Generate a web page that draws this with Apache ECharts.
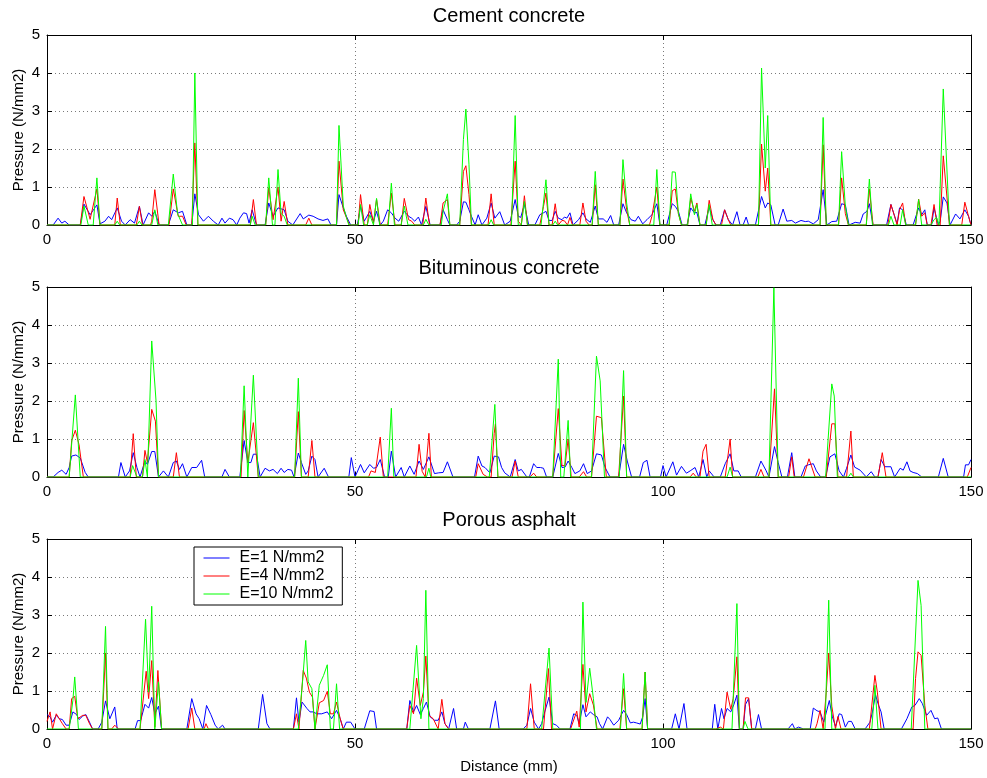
<!DOCTYPE html>
<html>
<head>
<meta charset="utf-8">
<script src="https://cdn.jsdelivr.net/npm/echarts@6/dist/echarts.min.js"></script>
<style>
html, body { margin: 0; padding: 0; background: #fff; }
#chart { width: 987px; height: 778px; }
</style>
</head>
<body>
<div id="chart"></div>
<script>
// Panel titles, legend names and tick values
const panelTitles = ['Cement concrete', 'Bituminous concrete', 'Porous asphalt'];
const seriesNames = ['E=1 N/mm2', 'E=4 N/mm2', 'E=10 N/mm2'];
const xTickRange = { min: 0, max: 150, step: 50 };
const yTickRange = { min: 0, max: 5, step: 1 };

// Pressure profiles: [distance (mm), pressure (N/mm2)]
const cementE1 = [[0,0],[1.0,0],[1.8,0.18],[2.4,0.05],[2.9,0.1],[3.6,0],[5.4,0],[6.0,0.55],[7.0,0.27],[8.1,0.53],[8.6,0.03],[9.4,0.1],[10.0,0.23],[10.5,0.14],[11.4,0.45],[12.1,0.1],[12.7,0],[13.5,0.14],[14.2,0.05],[15.0,0.49],[15.6,0],[16.5,0.32],[17.0,0.23],[17.5,0.36],[18.2,0],[19.7,0],[20.5,0.4],[21.3,0.32],[22.0,0.36],[22.7,0],[23.5,0],[24.0,0.82],[24.6,0.27],[25.4,0.1],[26.2,0.23],[27.0,0.1],[27.8,0],[28.4,0.18],[28.9,0.05],[29.6,0.18],[30.2,0.14],[30.8,0],[31.3,0.18],[31.9,0.32],[32.4,0.3],[32.8,0.05],[33.3,0.4],[34.0,0],[35.4,0],[36.0,0.58],[36.7,0.23],[37.5,0.45],[38.5,0.4],[39.1,0.1],[39.9,0],[41.1,0.3],[41.6,0.16],[42.5,0.26],[43.2,0.23],[44.0,0.16],[44.8,0.12],[45.6,0.16],[46.1,0],[47.0,0],[47.4,0.8],[48.1,0.45],[48.6,0.23],[49.3,0],[50.4,0],[50.9,0.49],[51.5,0.1],[52.4,0.36],[53.0,0.1],[53.5,0.36],[54.1,0],[54.6,0.1],[55.3,0.4],[55.9,0.32],[56.5,0.18],[57.1,0.1],[58.0,0.36],[58.7,0.23],[59.2,0.18],[59.7,0.1],[60.3,0.21],[60.8,0],[61.5,0.49],[62.2,0],[63.8,0],[64.3,0.4],[65.0,0.14],[65.4,0],[66.5,0],[67.0,0.1],[67.6,0.61],[68.0,0.6],[68.5,0.4],[68.9,0.23],[69.5,0],[70.0,0.27],[70.6,0],[71.4,0.18],[72.1,0.58],[72.7,0.18],[73.5,0.35],[74.3,0],[75.2,0.1],[76.0,0.67],[76.5,0.23],[76.9,0.2],[77.5,0.54],[78.2,0],[79.2,0],[80.0,0.27],[80.6,0.32],[81.0,0.36],[81.5,0.12],[82.0,0.12],[82.5,0.36],[83.0,0.18],[83.6,0.14],[84.0,0.21],[84.4,0.18],[84.9,0.32],[85.4,0],[86.3,0.14],[87.0,0.32],[87.5,0.16],[88.2,0.07],[89.0,0.5],[89.5,0.16],[90.3,0.16],[90.9,0.07],[91.5,0.25],[92.0,0],[92.8,0],[93.5,0.56],[94.1,0.32],[94.8,0.14],[95.5,0.1],[96.0,0.23],[96.7,0.03],[97.4,0.14],[98.2,0.27],[99.0,0.56],[99.5,0],[100.6,0],[101.5,0.56],[102.0,0.49],[102.5,0.36],[103.1,0],[103.9,0],[104.5,0.45],[105.1,0.32],[105.5,0.33],[106.0,0],[106.8,0],[107.5,0.47],[108.1,0.14],[108.6,0],[109.3,0],[110.0,0.4],[110.6,0.14],[111.3,0],[112.0,0.35],[112.5,0],[113.0,0],[113.5,0.21],[113.9,0],[115.0,0],[116.0,0.75],[116.6,0.45],[117.0,0.58],[117.5,0.53],[118.2,0],[118.7,0],[119.5,0.42],[120.1,0.1],[120.9,0.12],[121.5,0.05],[122.4,0.12],[123.1,0.09],[123.6,0.1],[124.4,0.03],[125.2,0.14],[126.0,0.93],[126.6,0],[127.4,0.09],[128.2,0.1],[129.0,0.56],[129.6,0.53],[130.2,0],[131.2,0.07],[132.0,0.05],[132.5,0.29],[133.1,0.36],[133.5,0.56],[134.1,0],[136.3,0],[137.0,0.54],[137.6,0.23],[138.0,0.03],[138.4,0.45],[138.9,0.4],[139.5,0],[140.6,0],[141.5,0.45],[142.0,0.27],[142.5,0.4],[142.9,0],[143.6,0],[144.0,0.45],[144.7,0],[145.0,0.1],[145.5,0.74],[146.1,0.58],[146.6,0],[147.5,0.29],[148.2,0.16],[149.0,0.4],[149.6,0.23],[150,0]];
const cementE4 = [[0,0],[5.4,0],[6.0,0.75],[7.0,0.15],[8.1,0.95],[8.6,0],[11.0,0],[11.4,0.71],[11.9,0],[14.5,0],[15.0,0.49],[15.5,0],[16.8,0],[17.0,0.1],[17.5,0.93],[18.2,0],[19.8,0],[20.5,0.95],[21.3,0.23],[22.0,0.23],[22.6,0],[23.5,0],[24.0,2.16],[24.5,0],[33.0,0],[33.5,0.67],[34.0,0],[35.5,0],[36.0,0.98],[36.7,0.14],[37.5,1.0],[38.0,0.1],[38.5,0.62],[39.1,0],[42.0,0],[42.5,0.18],[43.0,0],[47.0,0],[47.4,1.68],[48.1,0.4],[48.6,0.2],[49.1,0],[50.5,0],[50.9,0.8],[51.5,0],[52.0,0],[52.4,0.54],[53.0,0.05],[53.5,0.68],[54.1,0],[55.3,0],[55.9,0.84],[56.5,0],[57.5,0],[58.0,0.7],[58.7,0.14],[59.2,0.1],[59.7,0],[61.0,0],[61.5,0.71],[62.1,0],[63.8,0],[64.3,0.58],[65.0,0.67],[65.4,0],[67.0,0],[67.6,1.41],[68.0,1.56],[68.5,0.8],[68.9,0],[71.6,0],[72.1,0.82],[72.6,0],[75.3,0],[76.0,1.68],[76.5,0.1],[77.0,0],[77.5,0.77],[78.0,0],[80.0,0],[80.6,0.49],[81.0,0.84],[81.5,0],[82.0,0],[82.5,0.56],[83.0,0],[83.6,0.12],[84.0,0.11],[84.5,0],[84.9,0.2],[85.3,0],[86.5,0],[87.0,0.58],[87.5,0.1],[88.0,0],[88.5,0],[89.0,1.06],[89.5,0],[93.0,0],[93.5,1.21],[94.1,0.4],[94.6,0],[97.8,0],[98.2,0.23],[99.0,1.0],[99.5,0],[101.0,0],[101.5,0.9],[102.0,0.95],[102.5,0.3],[103.0,0],[104.0,0],[104.5,0.71],[105.1,0.36],[105.5,0.58],[106.0,0],[107.0,0],[107.5,0.65],[108.1,0.14],[108.6,0],[109.5,0],[110.0,0.4],[110.6,0.14],[111.0,0],[115.5,0],[116.0,2.13],[116.6,0.89],[117.0,1.5],[117.5,0],[125.5,0],[126.0,2.11],[126.5,0],[128.5,0],[129.0,1.24],[129.6,0.3],[130.1,0],[133.0,0],[133.5,0.95],[134.1,0],[136.5,0],[137.0,0.54],[137.6,0.23],[138.0,0],[138.4,0.4],[138.9,0.58],[139.4,0],[141.0,0],[141.5,0.68],[142.0,0.23],[142.5,0.32],[142.9,0],[143.5,0],[144.0,0.54],[144.5,0],[145.0,0],[145.5,1.82],[146.5,0],[148.5,0],[149.0,0.6],[149.6,0.23],[150,0]];
const cementE10 = [[0,0],[5.5,0],[6.0,0.5],[6.7,0],[7.5,0],[8.1,1.24],[8.6,0],[11.0,0],[11.4,0.1],[11.8,0],[14.6,0],[15.0,0.1],[15.4,0],[17.0,0],[17.5,0.4],[18.0,0],[19.7,0],[20.5,1.34],[21.2,0.3],[22.0,0],[23.6,0],[24.0,4.0],[24.5,0],[33.0,0],[33.3,0.23],[33.8,0],[35.5,0],[36.0,1.24],[36.6,0],[37.0,0],[37.5,1.46],[38.0,0.3],[38.5,0.23],[39.0,0],[47.0,0],[47.4,2.62],[48.1,0.5],[48.6,0.2],[49.0,0],[50.5,0],[50.9,0.54],[51.4,0],[52.0,0],[52.4,0.27],[53.0,0],[53.5,0.7],[54.0,0],[55.4,0],[55.9,1.1],[56.4,0],[57.5,0],[58.0,0.5],[58.6,0],[61.1,0],[61.5,0.15],[62.0,0],[64.0,0],[64.3,0.36],[65.0,0.82],[65.4,0],[67.0,0],[67.6,2.25],[68.0,3.05],[68.5,1.6],[68.9,0],[71.7,0],[72.1,0.14],[72.5,0],[75.4,0],[76.0,2.88],[76.5,0],[77.0,0],[77.5,0.62],[78.0,0],[80.2,0],[81.0,1.19],[81.5,0],[82.1,0],[82.5,0.1],[82.9,0],[88.5,0],[89.0,1.41],[89.5,0],[93.0,0],[93.5,1.72],[94.1,0.58],[94.6,0],[98.5,0],[99.0,1.46],[99.5,0],[101.0,0],[101.5,1.4],[102.0,1.39],[102.5,0.3],[103.0,0],[104.0,0],[104.5,0.82],[105.1,0.27],[105.5,0.54],[106.0,0],[107.0,0],[107.5,0.54],[108.0,0],[115.5,0],[116.0,4.13],[116.6,1.5],[117.0,2.88],[117.5,0],[125.5,0],[126.0,2.83],[126.5,0],[128.5,0],[129.0,1.93],[129.6,0.5],[130.1,0],[133.0,0],[133.5,1.21],[134.0,0],[136.6,0],[137.0,0.23],[137.5,0],[138.5,0],[138.9,0.4],[139.4,0],[141.0,0],[141.5,0.67],[142.0,0],[143.5,0],[144.0,0.14],[144.4,0.2],[144.8,0],[145.0,0],[145.5,3.58],[146.5,0],[150,0]];

const bitumE1 = [[0,0],[1.0,0],[1.8,0.12],[2.4,0.18],[3.1,0.07],[3.6,0.25],[4.0,0.55],[4.7,0.58],[5.4,0.5],[5.6,0.46],[6.2,0.12],[6.7,0],[11.6,0],[12.0,0.38],[12.7,0],[13.4,0.16],[14.0,0.64],[14.6,0.25],[15.1,0],[15.9,0.42],[16.3,0.33],[17.0,0.67],[17.5,0.67],[18.1,0],[18.9,0.16],[19.7,0],[20.5,0.38],[21.0,0.42],[21.5,0.2],[22.0,0.35],[22.7,0],[23.5,0.25],[24.3,0.25],[25.1,0.44],[25.6,0],[28.4,0],[28.9,0.2],[29.6,0],[31.3,0],[32.0,0.96],[32.6,0.38],[33.1,0.38],[33.5,0.6],[34.0,0.6],[34.6,0],[35.4,0.23],[36.1,0.16],[36.7,0.2],[37.4,0.09],[38.0,0.23],[38.5,0.12],[39.1,0.2],[39.7,0.18],[40.1,0],[40.8,0.63],[41.3,0.38],[42.0,0.07],[42.4,0.16],[43.0,0.55],[43.5,0.46],[44.0,0],[45.0,0.23],[45.7,0],[49.0,0],[49.4,0.51],[50.0,0],[50.9,0.33],[51.5,0.11],[52.4,0.33],[53.0,0.23],[53.5,0.25],[54.1,0.46],[54.8,0],[55.4,0],[55.9,0.68],[56.6,0],[57.5,0.25],[58.0,0],[58.9,0.29],[59.6,0.07],[60.4,0.42],[61.1,0.2],[62.0,0.53],[62.9,0.09],[63.6,0.11],[64.3,0.12],[65.0,0.4],[65.9,0],[69.4,0],[70.0,0.55],[70.6,0.29],[71.1,0.25],[71.9,0.11],[72.6,0.55],[73.3,0.53],[73.8,0.25],[74.3,0.11],[75.2,0],[76.0,0.46],[76.5,0.16],[77.0,0.2],[77.9,0],[78.3,0],[79.0,0.35],[79.5,0.25],[80.1,0.25],[80.6,0.23],[81.1,0],[82.1,0],[83.0,0.62],[83.6,0.25],[84.1,0.26],[84.6,0.42],[85.2,0.25],[85.7,0.09],[86.5,0.16],[87.1,0.35],[87.7,0.09],[88.4,0.16],[89.2,0.61],[90.0,0.58],[90.6,0.25],[91.4,0],[92.8,0],[93.6,0.86],[94.2,0.42],[94.9,0],[96.2,0],[96.8,0.38],[97.4,0.44],[97.9,0],[99.6,0],[100.0,0.3],[100.5,0],[101.6,0.4],[102.2,0.05],[103.0,0.28],[103.8,0.1],[104.4,0.16],[105.2,0.25],[105.8,0],[106.5,0.46],[107.1,0],[107.5,0.16],[108.3,0],[109.3,0],[110.1,0.35],[110.9,0.61],[111.5,0.16],[112.2,0.16],[112.7,0],[115.0,0],[115.9,0.42],[116.7,0.18],[117.2,0],[118.1,0.8],[118.7,0.38],[119.3,0],[120.2,0],[120.9,0.64],[121.4,0],[122.4,0],[123.1,0.29],[123.6,0.32],[124.4,0.35],[124.9,0.16],[125.6,0],[126.4,0],[127.1,0.53],[127.9,0.61],[128.6,0.16],[129.3,0],[129.8,0.23],[130.5,0.58],[131.1,0.26],[132.0,0.18],[133.0,0],[133.8,0.14],[134.4,0],[134.9,0],[135.4,0.46],[136.0,0.27],[137.0,0.27],[137.6,0],[138.5,0.23],[139.0,0.18],[139.6,0.4],[140.1,0.16],[140.6,0.12],[141.3,0.09],[142.0,0],[144.7,0],[145.5,0.49],[146.3,0],[148.8,0],[149.1,0.32],[149.6,0.32],[150,0.46]];
const bitumE4 = [[0,0],[3.6,0],[4.0,0.95],[4.6,1.23],[5.2,0.85],[5.9,0],[13.5,0],[14.0,1.14],[14.5,0],[15.5,0],[15.9,0.7],[16.3,0.38],[17.0,1.78],[17.6,1.47],[18.1,0],[20.5,0],[21.0,0.64],[21.5,0],[31.5,0],[32.0,1.75],[32.6,0.38],[33.5,1.43],[34.3,0],[40.2,0],[40.8,1.72],[41.3,0],[42.4,0],[43.0,0.96],[43.5,0],[52.2,0],[52.6,0.16],[53.3,0.12],[54.1,1.05],[54.6,0],[59.9,0],[60.4,0.86],[60.9,0.15],[61.4,0],[62.0,1.15],[62.4,0],[69.6,0],[70.0,0.35],[70.8,0.07],[71.5,0],[72.1,0],[72.6,1.15],[72.8,1.4],[73.2,0],[75.5,0],[76.0,0.42],[76.5,0],[78.4,0],[79.0,0.1],[79.5,0],[82.1,0],[83.0,1.8],[83.6,0.3],[84.1,0.3],[84.6,1.0],[85.1,0],[86.4,0],[87.1,0.14],[87.6,0],[88.4,0],[89.2,1.6],[90.0,1.56],[90.8,0],[92.8,0],[93.6,2.13],[94.1,0],[104.4,0],[104.9,0.1],[105.4,0],[106.0,0],[106.5,0.68],[107.0,0.86],[107.5,0],[110.1,0],[110.9,1.0],[111.3,0],[115.4,0],[115.9,0.2],[116.4,0],[117.2,0],[118.1,2.32],[118.7,0],[120.4,0],[120.9,0.53],[121.3,0],[122.8,0],[123.7,0.48],[124.7,0],[126.5,0],[127.4,1.4],[127.9,1.4],[128.4,0],[129.8,0],[130.5,1.21],[130.9,0],[134.9,0],[135.6,0.64],[136.2,0],[149.4,0],[150,0.25]];
const bitumE10 = [[0,0],[3.6,0],[4.6,2.16],[5.4,0],[13.5,0],[13.9,0.3],[14.6,0],[15.5,0],[15.9,0.46],[16.3,0],[17.0,3.58],[17.7,2.0],[18.1,0],[31.4,0],[32.0,2.4],[32.6,0],[33.5,2.68],[34.3,0],[40.2,0],[40.8,2.6],[41.3,0],[55.3,0],[55.9,1.81],[56.3,0],[61.6,0],[62.0,0.23],[62.3,0],[71.8,0],[72.7,1.91],[73.2,0],[82.1,0],[83.0,3.1],[83.4,0],[83.9,0],[84.6,1.49],[85.0,0],[88.4,0],[89.2,3.18],[89.8,2.53],[90.5,0],[92.9,0],[93.6,2.8],[94.1,0],[110.4,0],[110.9,0.26],[111.3,0],[117.2,0],[118.0,4.98],[118.7,0],[126.4,0],[127.4,2.45],[127.8,2.13],[128.3,0],[130.1,0],[130.5,0.1],[130.9,0],[150,0]];

const porousE1 = [[0,0.38],[0.5,0.32],[0.9,0.18],[1.5,0.36],[2.0,0.27],[2.5,0.25],[3.1,0.1],[3.6,0.1],[4.2,0.45],[4.8,0.38],[5.2,0.25],[5.8,0.34],[6.3,0.38],[6.9,0.18],[7.4,0],[8.3,0],[8.9,0.18],[9.5,0.74],[10.2,0.27],[11.0,0.58],[11.4,0],[14.3,0],[14.7,0.22],[15.2,0.22],[15.9,0.65],[16.5,0.55],[17.0,0.83],[17.5,0.4],[18.1,0.6],[18.6,0],[22.7,0],[23.5,0.8],[24.2,0.4],[24.7,0.27],[25.3,0],[25.9,0.62],[26.6,0.38],[27.3,0.1],[27.8,0],[28.5,0.1],[28.9,0],[34.3,0],[35.0,0.91],[35.7,0.14],[36.2,0],[40.0,0],[40.5,0.82],[40.9,0.18],[41.4,0.71],[42.2,0.54],[42.7,0.45],[43.2,0.45],[43.8,0.4],[44.6,0.4],[45.5,0.45],[46.2,0.27],[47.0,0.49],[47.6,0.27],[48.1,0],[48.6,0.18],[49.3,0.18],[50.0,0],[51.5,0],[52.4,0.48],[53.1,0.46],[53.5,0],[58.4,0],[58.9,0.75],[59.5,0.45],[60.0,0.62],[60.6,0.38],[61.1,0.54],[61.6,0.71],[62.2,0.32],[62.9,0.23],[63.5,0.23],[64.1,0.45],[64.6,0.14],[65.2,0],[66.0,0.54],[66.5,0],[67.6,0],[67.9,0.18],[68.4,0],[71.9,0],[72.8,0.74],[73.4,0],[77.3,0],[77.9,0.1],[78.5,0.54],[79.1,0.18],[79.8,0],[80.3,0.14],[80.8,0.45],[81.5,0.84],[82.1,0.14],[82.7,0.1],[83.3,0],[84.9,0],[85.5,0.4],[86.0,0.36],[86.4,0.14],[87.0,0.64],[87.5,0.32],[88.2,0.45],[88.7,0.38],[89.3,0.32],[89.7,0.14],[90.2,0],[91.0,0.32],[91.4,0.25],[92.0,0.1],[92.8,0.23],[93.6,0.49],[94.1,0.38],[94.7,0.16],[95.2,0.18],[95.7,0.16],[96.3,0.13],[96.7,0.32],[97.1,0.8],[97.5,0],[101.4,0],[102.0,0.4],[102.6,0],[103.4,0.67],[103.9,0],[108.0,0],[108.4,0.65],[108.9,0],[109.5,0.54],[109.9,0.27],[110.4,0.54],[111.0,0.45],[111.5,0.64],[112.0,0.89],[112.4,0],[113.0,0],[113.4,0.65],[113.9,0.8],[114.4,0],[115.0,0],[115.5,0.38],[116.0,0],[120.3,0],[121.0,0.14],[121.4,0],[122.0,0.05],[122.8,0],[123.9,0],[124.4,0.55],[125.0,0.48],[125.5,0.45],[126.1,0.18],[127.0,0.75],[127.5,0.32],[128.0,0.07],[128.6,0.4],[129.0,0.38],[129.6,0.05],[130.1,0.2],[130.6,0.2],[131.2,0],[132.8,0],[133.6,0.18],[134.0,0.45],[134.5,0.9],[134.9,0.67],[135.4,0.45],[135.9,0],[138.7,0],[139.6,0.27],[140.4,0.58],[140.9,0.62],[141.6,0.8],[142.1,0.67],[142.8,0.36],[143.5,0.49],[144.1,0.27],[144.6,0.29],[145.2,0],[150,0]];
const porousE4 = [[0,0.2],[0.5,0.45],[0.9,0],[1.5,0.4],[2.0,0.27],[2.5,0.14],[3.1,0],[3.6,0],[4.0,0.8],[4.5,0.86],[5.0,0.27],[5.8,0.36],[6.3,0.36],[6.9,0.14],[7.4,0],[8.9,0],[9.5,2.0],[9.9,0],[10.5,0],[11.0,0.1],[11.6,0],[15.1,0],[16.1,1.52],[16.5,0.8],[17.0,1.8],[17.5,0.05],[18.0,1.54],[18.6,0],[22.9,0],[23.5,0.55],[24.0,0],[25.5,0],[25.8,0.14],[26.2,0],[40.0,0],[40.5,0.4],[40.9,0],[41.6,1.54],[42.1,1.34],[42.6,0.97],[43.1,0.84],[43.5,0],[44.2,0.69],[44.9,0.75],[45.5,0.99],[46.0,0.4],[46.5,0.4],[47.0,0.71],[47.6,0.27],[48.1,0],[58.4,0],[58.9,0.62],[59.5,0.4],[60.0,1.34],[60.6,0.62],[61.1,0.97],[61.5,1.92],[62.0,0.36],[62.7,0.27],[63.5,0],[64.1,0.78],[64.6,0.14],[65.2,0],[77.9,0],[78.5,1.19],[79.1,0],[80.6,0],[81.4,1.59],[81.9,0],[85.0,0],[86.0,0.47],[86.4,0.05],[87.0,1.7],[87.5,0.45],[88.1,0.93],[88.7,0.63],[89.3,0],[93.0,0],[93.6,1.06],[94.1,0],[96.6,0],[97.1,1.5],[97.5,0],[108.6,0],[109.3,0.05],[109.8,0],[110.4,0.97],[111.0,0.52],[111.4,0.8],[112.0,1.9],[112.4,0],[113.0,0],[113.4,0.82],[113.9,0.82],[114.4,0],[124.7,0],[125.0,0.14],[125.5,0.49],[126.0,0],[126.5,0.97],[126.9,2.0],[127.4,0.6],[128.0,0],[128.4,0.33],[128.9,0],[133.5,0],[134.4,1.41],[134.8,0.97],[135.4,0],[140.6,0],[141.0,1.33],[141.4,2.03],[141.9,1.94],[142.5,0.62],[143.0,0],[150,0]];
const porousE10 = [[0,0],[3.6,0],[4.2,0.75],[4.5,1.37],[5.1,0],[8.9,0],[9.5,2.7],[9.9,0],[15.1,0],[16.0,2.89],[16.5,0.97],[17.0,3.23],[17.5,0],[18.1,1.24],[18.6,0],[40.8,0],[41.5,1.28],[42.0,2.33],[42.4,1.24],[43.0,1.06],[43.5,0],[44.2,1.15],[44.9,1.41],[45.5,1.69],[46.0,0],[46.5,0],[47.0,1.19],[47.5,0],[58.9,0],[60.0,2.2],[60.7,0.27],[61.1,0.8],[61.5,3.65],[62.0,0],[80.3,0],[81.5,2.13],[82.1,0],[86.6,0],[87.0,3.34],[87.5,0.7],[88.1,1.6],[88.7,0.8],[89.2,0],[93.1,0],[93.6,1.46],[94.1,0],[96.6,0],[97.1,1.5],[97.5,0],[111.2,0],[112.0,3.3],[112.4,0],[113.0,0],[113.3,0.2],[113.8,0],[126.3,0],[126.9,3.39],[127.4,0],[133.9,0],[134.4,1.15],[134.9,0],[140.3,0],[141.4,3.91],[141.9,3.25],[142.5,0],[150,0]];

const panelData = [
  [cementE1, cementE4, cementE10],
  [bitumE1, bitumE4, bitumE10],
  [porousE1, porousE4, porousE10]
];
const lineColors = ['#0000ff', '#ff0000', '#00ff00'];

const FONT = '"Liberation Sans", Arial, Helvetica, sans-serif';
const plotLeft = 47, plotWidth = 924, plotHeight = 190;
const plotTops = [35, 287, 539];

const dotted = { type: [1, 3], color: '#7a7a7a', width: 1 };
const blackLine = { color: '#000', width: 1 };

const grid = [], xAxis = [], yAxis = [], title = [], series = [];

plotTops.forEach((top, i) => {
  grid.push({ left: plotLeft, top: top, width: plotWidth, height: plotHeight, show: false });
  title.push({
    text: panelTitles[i], left: plotLeft + plotWidth / 2, top: top - 29, textAlign: 'center',
    padding: 0,
    textStyle: { fontFamily: FONT, fontSize: 20, fontWeight: 'normal', color: '#000' }
  });
});

// main (bottom / left) axes carry labels and dotted grid
plotTops.forEach((top, i) => {
  xAxis.push({
    gridIndex: i, type: 'value', position: 'bottom',
    min: xTickRange.min, max: xTickRange.max, interval: xTickRange.step,
    axisLine: { onZero: false, lineStyle: blackLine },
    axisTick: { inside: true, length: 5, lineStyle: blackLine },
    axisLabel: { color: '#000', fontFamily: FONT, fontSize: 15, margin: 7 },
    splitLine: { show: true, lineStyle: dotted },
    name: i === 2 ? 'Distance (mm)' : '', nameLocation: 'middle', nameGap: 30,
    nameMoveOverlap: false,
    nameTextStyle: { color: '#000', fontFamily: FONT, fontSize: 15 }
  });
  yAxis.push({
    gridIndex: i, type: 'value', position: 'left',
    min: yTickRange.min, max: yTickRange.max, interval: yTickRange.step,
    axisLine: { onZero: false, lineStyle: blackLine },
    axisTick: { inside: true, length: 5, lineStyle: blackLine },
    axisLabel: { color: '#000', fontFamily: FONT, fontSize: 15, margin: 7 },
    splitLine: { show: true, lineStyle: dotted },
    name: 'Pressure (N/mm2)', nameLocation: 'middle', nameGap: 21,
    nameMoveOverlap: false,
    nameTextStyle: { color: '#000', fontFamily: FONT, fontSize: 15 }
  });
});
// mirror (top / right) axes close the box with inward ticks
plotTops.forEach((top, i) => {
  xAxis.push({
    gridIndex: i, type: 'value', position: 'top',
    min: xTickRange.min, max: xTickRange.max, interval: xTickRange.step,
    axisLine: { onZero: false, lineStyle: blackLine },
    axisTick: { inside: true, length: 5, lineStyle: blackLine },
    axisLabel: { show: false }, splitLine: { show: false }
  });
  yAxis.push({
    gridIndex: i, type: 'value', position: 'right',
    min: yTickRange.min, max: yTickRange.max, interval: yTickRange.step,
    axisLine: { onZero: false, lineStyle: blackLine },
    axisTick: { inside: true, length: 5, lineStyle: blackLine },
    axisLabel: { show: false }, splitLine: { show: false }
  });
});

panelData.forEach((group, i) => {
  group.forEach((values, k) => {
    series.push({
      name: seriesNames[k], type: 'line', xAxisIndex: i, yAxisIndex: i,
      data: values, symbol: 'none', showSymbol: false, smooth: false,
      lineStyle: { color: lineColors[k], width: 1 },
      itemStyle: { color: lineColors[k] },
      emphasis: { disabled: true }, z: 2 + k
    });
  });
});

const chart = echarts.init(document.getElementById('chart'), null, { renderer: 'canvas' });
chart.setOption({
  backgroundColor: '#fff',
  animation: false,
  title: title,
  grid: grid,
  xAxis: xAxis,
  yAxis: yAxis,
  legend: {
    data: seriesNames,
    orient: 'vertical', left: 194, top: 547,
    backgroundColor: '#fff', borderColor: '#000', borderWidth: 1, borderRadius: 0,
    padding: [3, 9, 3, 9], itemGap: 2, itemWidth: 26, itemHeight: 16,
    itemStyle: { opacity: 0 },
    lineStyle: { width: 1 },
    textStyle: { color: '#000', fontFamily: FONT, fontSize: 16, padding: [0, 0, 0, 5] },
    selectedMode: false
  },
  series: series
});
</script>
</body>
</html>
